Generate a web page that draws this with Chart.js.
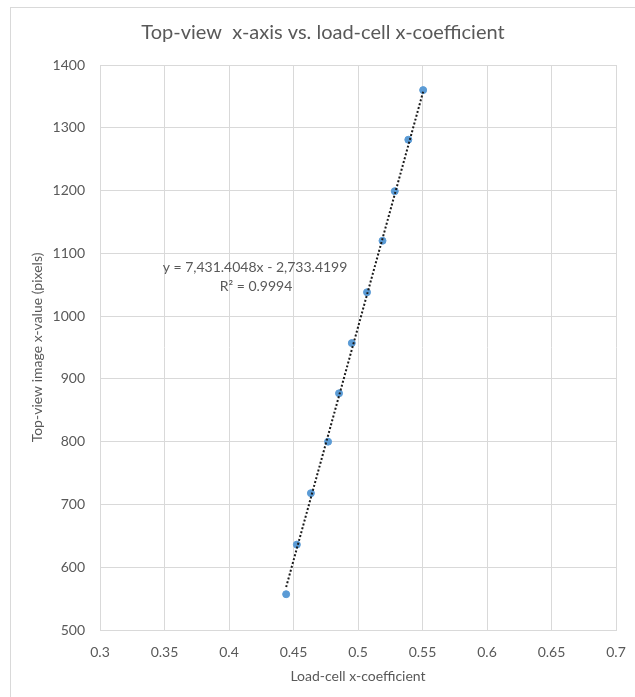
<!DOCTYPE html>
<html>
<head>
<meta charset="utf-8">
<script src="https://cdn.jsdelivr.net/npm/chart.js@4/dist/chart.umd.min.js"></script>
<style>
  html, body { margin: 0; padding: 0; background: #ffffff; }
  #wrap { position: relative; width: 635px; height: 697px; overflow: hidden; }
  #frame { position: absolute; left: 10px; top: 7px; width: 700px; height: 760px; border: 1px solid #d9d9d9; box-sizing: border-box; }
  canvas { position: absolute; left: 0; top: 0; }
</style>
</head>
<body>
<div id="wrap">
  <div id="frame"></div>
  <canvas id="c" width="635" height="697"></canvas>
</div>
<script>
// ---- data ----
const chartTitle = 'Top-view  x-axis vs. load-cell x-coefficient';
const xAxisTitle = 'Load-cell x-coefficient';
const yAxisTitle = 'Top-view image x-value (pixels)';
const xCoef   = [0.4443, 0.4526, 0.4635, 0.4768, 0.4853, 0.4952, 0.5070, 0.5190, 0.5285, 0.5390, 0.5505];
const yPixels = [557, 636, 718, 800, 877, 957, 1038, 1120, 1199, 1281, 1360];
const xTickValues = [0.3, 0.35, 0.4, 0.45, 0.5, 0.55, 0.6, 0.65, 0.7];
const yTickValues = [500, 600, 700, 800, 900, 1000, 1100, 1200, 1300, 1400];
const trendSlope = 7431.4048;
const trendIntercept = -2733.4199;
const trendLabel = ['y = 7,431.4048x - 2,733.4199', 'R\u00B2 = 0.9994'];

const points = xCoef.map((x, i) => ({ x: x, y: yPixels[i] }));
const xMin = Math.min(...xCoef), xMax = Math.max(...xCoef);
const trendPoints = [xMin, xMax].map(x => ({ x: x, y: trendSlope * x + trendIntercept }));

const textColor = '#595959';
const gridColor = '#d9d9d9';
const fontFamily = 'Lato, "Open Sans", sans-serif';

const equationPlugin = {
  id: 'equationLabel',
  afterDatasetsDraw(chart) {
    const ctx = chart.ctx;
    ctx.save();
    ctx.fillStyle = textColor;
    ctx.font = '14px ' + fontFamily;
    ctx.textAlign = 'center';
    ctx.textBaseline = 'middle';
    ctx.fillText(trendLabel[0], 255, 267);
    ctx.fillText(trendLabel[1], 256, 286);
    ctx.restore();
  }
};

new Chart(document.getElementById('c'), {
  type: 'scatter',
  data: {
    datasets: [
      {
        type: 'line',
        label: 'Linear trend',
        data: trendPoints,
        borderColor: '#1a1a1a',
        borderWidth: 2,
        borderDash: [2, 2],
        pointRadius: 0,
        fill: false,
        order: 0
      },
      {
        label: 'Top-view x-value',
        data: points,
        backgroundColor: '#5B9BD5',
        borderColor: '#5B9BD5',
        pointRadius: 3.5,
        pointHoverRadius: 3.5,
        order: 1
      }
    ]
  },
  options: {
    responsive: false,
    animation: false,
    devicePixelRatio: 1,
    layout: { padding: { left: 30, right: 19, top: 0, bottom: 12 } },
    plugins: {
      legend: { display: false },
      tooltip: { enabled: false },
      title: {
        display: true,
        text: chartTitle,
        color: textColor,
        font: { family: fontFamily, size: 20, weight: 'normal' },
        padding: { top: 21, bottom: 20 }
      }
    },
    scales: {
      x: {
        type: 'linear',
        min: 0.3, max: 0.7,
        afterBuildTicks: s => { s.ticks = xTickValues.map(v => ({ value: v })); },
        afterFit: s => { s.height = 55; },
        grid: { color: gridColor, drawTicks: true, tickLength: 8, tickColor: 'rgba(0,0,0,0)', lineWidth: 1 },
        border: { color: gridColor },
        ticks: {
          color: textColor,
          padding: 6,
          font: { family: fontFamily, size: 14 },
          callback: v => String(+Number(v).toFixed(2))
        },
        title: {
          display: true,
          text: xAxisTitle,
          color: textColor,
          font: { family: fontFamily, size: 14 },
          padding: { top: 0, bottom: 0 }
        }
      },
      y: {
        type: 'linear',
        min: 500, max: 1400,
        afterBuildTicks: s => { s.ticks = yTickValues.map(v => ({ value: v })); },
        afterFit: s => { s.width = 70; },
        grid: { color: gridColor, drawTicks: false, lineWidth: 1 },
        border: { color: gridColor },
        ticks: {
          color: textColor,
          padding: 15,
          font: { family: fontFamily, size: 14 },
          callback: v => String(v)
        },
        title: {
          display: true,
          text: yAxisTitle,
          color: textColor,
          font: { family: fontFamily, size: 14 },
          padding: { top: -1, bottom: 0 }
        }
      }
    }
  },
  plugins: [equationPlugin]
});
</script>
</body>
</html>
